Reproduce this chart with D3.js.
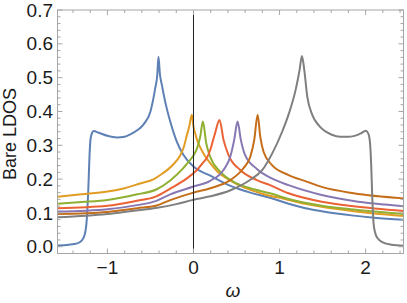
<!DOCTYPE html>
<html>
<head>
  <meta charset="utf-8">
  <title>Bare LDOS</title>
  <style type="text/css">
    body { margin: 0; background: #fff; }
    svg { display: block; }
    text { font-family: "Liberation Sans", Arial, sans-serif; fill: #1a1a1a; }
    .frame { fill: none; stroke: #a6a6a6; stroke-width: 1; }
    .tick { stroke: #a6a6a6; stroke-width: 1; }
    .curve { fill: none; stroke-width: 2; stroke-linejoin: round; }
  </style>
</head>
<body>
  <script type="text/javascript" src="https://cdn.jsdelivr.net/npm/d3@7/dist/d3.min.js"></script>
  <script type="text/javascript">
    // size of the picture
    var w = 407;
    var h = 303;

    // tick values and labels
    var xTicks = [-1, 0, 1, 2];
    var xTickLabels = ["\u22121", "0", "1", "2"];
    var yTicks = [0, 0.1, 0.2, 0.3, 0.4, 0.5, 0.6, 0.7];
    var yTickLabels = ["0.0", "0.1", "0.2", "0.3", "0.4", "0.5", "0.6", "0.7"];

    // curves as [omega, LDOS] pairs
    var blue = [[-1.58,0.004],[-1.45,0.006],[-1.35,0.01],[-1.3,0.018],[-1.265,0.035],[-1.24,0.08],
      [-1.222,0.17],[-1.208,0.27],[-1.195,0.32],[-1.175,0.338],[-1.16,0.342],[-1.1,0.337],[-1.0,0.328],
      [-0.89,0.323],[-0.8,0.325],[-0.735,0.332],[-0.65,0.345],[-0.58,0.362],[-0.5,0.4],[-0.445,0.468],
      [-0.42,0.51],[-0.407,0.562],[-0.39,0.51],[-0.367,0.478],[-0.329,0.429],[-0.27,0.37],[-0.193,0.31],
      [-0.116,0.271],[0,0.237],[0.196,0.21],[0.43,0.18],[0.66,0.16],[0.89,0.145],[1.105,0.127],
      [1.3,0.114],[1.49,0.105],[1.86,0.092],[2.1,0.086],[2.44,0.08]];
    var orange = [[-1.58,0.148],[-1.3,0.155],[-1.0,0.163],[-0.8,0.173],[-0.62,0.187],[-0.46,0.2],
      [-0.387,0.212],[-0.3,0.228],[-0.233,0.244],[-0.155,0.27],[-0.116,0.292],[-0.077,0.33],[-0.05,0.355],
      [-0.019,0.39],[0.0,0.355],[0.02,0.335],[0.05,0.31],[0.078,0.294],[0.13,0.27],[0.194,0.247],
      [0.28,0.222],[0.388,0.202],[0.52,0.183],[0.66,0.168],[0.85,0.153],[1.05,0.142],[1.3,0.127],
      [1.49,0.118],[1.8,0.107],[2.1,0.098],[2.44,0.091]];
    var green = [[-1.58,0.127],[-1.3,0.132],[-1.0,0.138],[-0.655,0.155],[-0.426,0.17],[-0.27,0.196],
      [-0.116,0.233],[-0.077,0.245],[-0.038,0.257],[0,0.27],[0.04,0.29],[0.078,0.325],[0.109,0.37],
      [0.148,0.306],[0.194,0.266],[0.31,0.222],[0.465,0.192],[0.66,0.173],[0.89,0.158],[1.105,0.141],
      [1.49,0.121],[1.86,0.11],[2.44,0.097]];
    var red = [[-1.58,0.114],[-1.0,0.121],[-0.655,0.136],[-0.44,0.148],[-0.27,0.172],[-0.077,0.202],
      [0.04,0.227],[0.116,0.25],[0.16,0.265],[0.194,0.286],[0.25,0.335],[0.302,0.375],[0.349,0.316],
      [0.407,0.271],[0.543,0.227],[0.737,0.197],[0.89,0.182],[1.105,0.158],[1.49,0.133],[1.86,0.12],
      [2.44,0.106]];
    var purple = [[-1.58,0.104],[-1.0,0.111],[-0.655,0.123],[-0.44,0.135],[-0.27,0.155],[0,0.178],
      [0.194,0.195],[0.349,0.227],[0.427,0.266],[0.473,0.316],[0.512,0.37],[0.55,0.316],[0.6,0.271],
      [0.737,0.23],[0.91,0.202],[1.105,0.182],[1.49,0.153],[1.86,0.135],[2.44,0.12]];
    var darkOrange = [[-1.58,0.097],[-1.0,0.103],[-0.655,0.114],[-0.44,0.121],[-0.27,0.138],[0,0.16],
      [0.196,0.173],[0.427,0.197],[0.58,0.232],[0.66,0.266],[0.706,0.316],[0.745,0.39],[0.776,0.325],
      [0.814,0.281],[0.91,0.242],[1.105,0.212],[1.3,0.194],[1.49,0.177],[1.86,0.158],[2.44,0.143]];
    var gray = [[-1.58,0.087],[-1.0,0.097],[-0.735,0.105],[-0.42,0.115],[-0.2,0.126],[0,0.139],
      [0.196,0.149],[0.43,0.167],[0.66,0.198],[0.8,0.227],[0.915,0.276],[1.03,0.34],[1.11,0.395],
      [1.186,0.463],[1.233,0.523],[1.26,0.564],[1.287,0.523],[1.322,0.444],[1.38,0.39],[1.458,0.358],
      [1.51,0.345],[1.6,0.332],[1.706,0.325],[1.8,0.325],[1.86,0.327],[1.95,0.336],[2.0,0.343],
      [2.03,0.335],[2.05,0.31],[2.065,0.24],[2.078,0.14],[2.092,0.07],[2.11,0.042],[2.14,0.025],
      [2.2,0.013],[2.3,0.006],[2.44,0.003]];

    var series = [blue, orange, green, red, purple, darkOrange, gray];
    var colors = ["#5e81b5", "#e19c24", "#8fb032", "#eb6235", "#8778b3", "#c56e1a", "#7f7f7f"];

    var x = d3.scaleLinear().domain([-1.58, 2.44]).range([57.5, 403.5]);
    var y = d3.scaleLinear().domain([-0.02, 0.7]).range([253.5, 10]);

    var svg = d3.select("body").append("svg")
      .attr("width", w)
      .attr("height", h);

    var plot = svg.append("g");

    // curves
    var line = d3.line()
      .x(d => x(d[0]))
      .y(d => y(d[1]))
      .curve(d3.curveMonotoneX);

    plot.selectAll("path.curve")
      .data(series)
      .enter()
      .append("path")
      .attr("class", "curve")
      .attr("stroke", (d, i) => colors[i])
      .attr("d", line);

    // vertical line at omega = 0
    plot.append("line")
      .attr("x1", x(0)).attr("x2", x(0))
      .attr("y1", y.range()[0]).attr("y2", y.range()[1])
      .attr("stroke", "#222").attr("stroke-width", 1);

    // frame
    var x0 = x.range()[0], x1 = x.range()[1], y0 = y.range()[0], y1 = y.range()[1];
    svg.append("rect").attr("class", "frame")
      .attr("x", x0).attr("y", y1)
      .attr("width", x1 - x0).attr("height", y0 - y1);

    // ticks on all four sides, pointing inward
    var xMinor = d3.range(-1.4, 2.45, 0.2).map(v => Math.round(v * 10) / 10);
    var yMinor = d3.range(0, 0.701, 0.02).map(v => Math.round(v * 100) / 100);
    var tickG = svg.append("g");
    xMinor.forEach(function(v) {
      var major = xTicks.indexOf(v) >= 0;
      var len = major ? 5 : 3;
      tickG.append("line").attr("class", "tick")
        .attr("x1", x(v)).attr("x2", x(v)).attr("y1", y0).attr("y2", y0 - len);
      tickG.append("line").attr("class", "tick")
        .attr("x1", x(v)).attr("x2", x(v)).attr("y1", y1).attr("y2", y1 + len);
    });
    yMinor.forEach(function(v) {
      var major = Math.abs(v * 10 - Math.round(v * 10)) < 1e-6;
      var len = major ? 5 : 3;
      tickG.append("line").attr("class", "tick")
        .attr("y1", y(v)).attr("y2", y(v)).attr("x1", x0).attr("x2", x0 + len);
      tickG.append("line").attr("class", "tick")
        .attr("y1", y(v)).attr("y2", y(v)).attr("x1", x1).attr("x2", x1 - len);
    });

    // tick labels
    svg.selectAll("text.xl")
      .data(xTicks)
      .enter()
      .append("text")
      .attr("class", "xl")
      .attr("x", d => x(d))
      .attr("y", 274)
      .attr("text-anchor", "middle")
      .style("font-size", "19px")
      .text((d, i) => xTickLabels[i]);

    svg.selectAll("text.yl")
      .data(yTicks)
      .enter()
      .append("text")
      .attr("class", "yl")
      .attr("x", 53)
      .attr("y", d => y(d))
      .attr("dy", "0.35em")
      .attr("text-anchor", "end")
      .style("font-size", "19px")
      .text((d, i) => yTickLabels[i]);

    // axis titles
    svg.append("text")
      .attr("transform", "translate(16,134) rotate(-90)")
      .attr("text-anchor", "middle")
      .style("font-size", "18px")
      .text("Bare LDOS");

    svg.append("text")
      .attr("x", 233)
      .attr("y", 297)
      .attr("text-anchor", "middle")
      .style("font-size", "19px")
      .style("font-style", "italic")
      .text("\u03c9");
  </script>
</body>
</html>
